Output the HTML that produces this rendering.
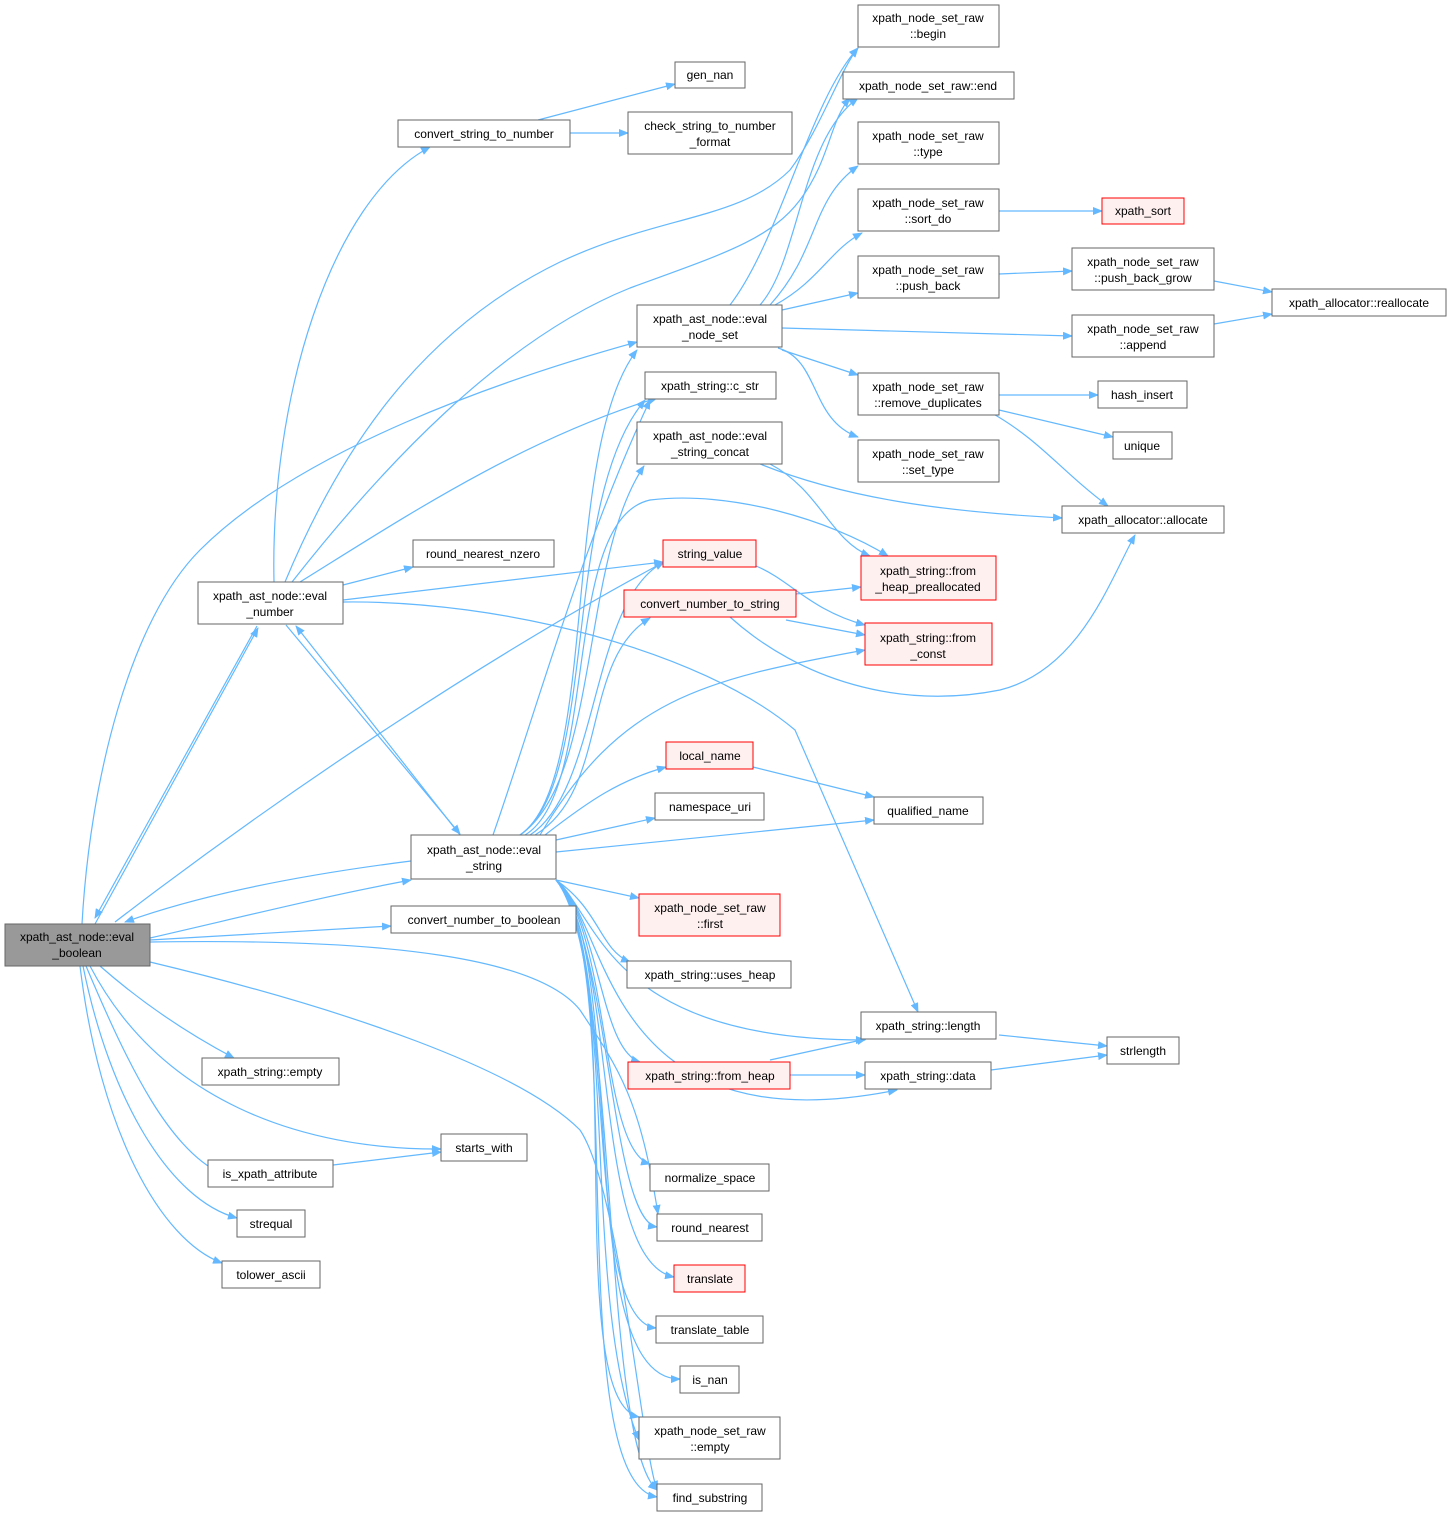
<!DOCTYPE html>
<html><head><meta charset="utf-8"><style>
html,body{margin:0;padding:0;background:#fff;}
svg text{font-family:"Liberation Sans",sans-serif;font-size:12px;fill:#000;}
</style></head><body>
<svg width="1451" height="1516" viewBox="0 0 1451 1516" xmlns="http://www.w3.org/2000/svg">
<defs><marker id="a" markerWidth="10" markerHeight="8" refX="9" refY="4" orient="auto" markerUnits="userSpaceOnUse"><path d="M0,0 L10,4 L0,8 z" fill="#63b8ff"/></marker></defs>
<g fill="none" stroke="#63b8ff" stroke-width="1.2" marker-end="url(#a)">
<path d="M95,924 L258,628"/>
<path d="M286,625 L460,834"/>
<path d="M150,938 C250,915 330,895 411,880"/>
<path d="M411,861 C300,875 200,895 125,922"/>
<path d="M150,940 L391,926"/>
<path d="M82,924 C90,780 130,620 200,550 C300,450 500,380 637,342"/>
<path d="M115,922 C300,780 500,650 664,562"/>
<path d="M150,942 C400,938 540,960 580,1010 C620,1070 640,1100 658,1214"/>
<path d="M150,962 C350,1010 520,1070 580,1130 C620,1190 640,1440 657,1490"/>
<path d="M100,966 C150,1010 200,1040 234,1058"/>
<path d="M90,966 C160,1100 300,1150 441,1149"/>
<path d="M86,966 C130,1070 170,1150 222,1174"/>
<path d="M83,966 C110,1100 170,1200 237,1218"/>
<path d="M80,966 C100,1130 160,1240 222,1263"/>
<path d="M333,1165 L441,1152"/>
<path d="M274,582 C270,400 330,200 430,147"/>
<path d="M257,626 L95,918"/>
<path d="M285,582 C340,450 420,330 560,262 C660,215 740,220 790,170 C820,130 840,70 858,48"/>
<path d="M292,582 C380,470 500,340 630,288 C720,255 770,240 800,200 C830,160 830,120 850,98"/>
<path d="M300,582 C400,520 520,440 657,398"/>
<path d="M343,585 L413,567"/>
<path d="M343,600 L663,562"/>
<path d="M343,602 C500,600 700,650 795,730 L918,1012"/>
<path d="M460,835 L296,626"/>
<path d="M538,120 L675,84"/>
<path d="M570,133 L628,133"/>
<path d="M730,305 C780,240 810,100 858,48"/>
<path d="M760,305 C800,260 800,140 858,98"/>
<path d="M770,305 C820,250 810,200 858,166"/>
<path d="M775,305 C820,280 830,250 862,233"/>
<path d="M782,310 L858,293"/>
<path d="M782,328 L1072,336"/>
<path d="M782,350 L858,375"/>
<path d="M778,348 C820,360 810,420 858,437"/>
<path d="M999,211 L1102,211"/>
<path d="M999,274 L1072,271"/>
<path d="M1214,281 L1272,292"/>
<path d="M1214,324 L1272,314"/>
<path d="M999,395 L1098,395"/>
<path d="M999,410 L1113,437"/>
<path d="M990,412 C1040,440 1060,470 1108,506"/>
<path d="M760,464 C850,500 950,512 1062,518"/>
<path d="M770,464 C820,490 830,540 870,556"/>
<path d="M756,566 C790,580 810,610 865,625"/>
<path d="M796,594 L861,587"/>
<path d="M786,620 L865,635"/>
<path d="M730,617 C800,680 900,710 1000,690 C1080,670 1110,580 1135,535"/>
<path d="M753,767 L874,797"/>
<path d="M999,1035 L1107,1046"/>
<path d="M991,1070 L1107,1055"/>
<path d="M770,1060 L866,1039"/>
<path d="M790,1075 L865,1075"/>
<path d="M493,835 C540,700 580,550 650,400"/>
<path d="M520,835 C600,780 560,450 637,350"/>
<path d="M520,835 C600,780 560,500 645,400"/>
<path d="M520,835 C600,780 580,560 644,466"/>
<path d="M525,835 C600,790 560,520 650,500 C730,490 830,520 888,556"/>
<path d="M530,835 C600,790 590,600 664,562"/>
<path d="M535,835 C610,790 580,660 650,618"/>
<path d="M540,835 C620,700 700,680 865,650"/>
<path d="M545,835 C590,800 620,780 666,767"/>
<path d="M556,840 L655,818"/>
<path d="M556,852 L874,820"/>
<path d="M556,880 L639,898"/>
<path d="M556,880 C600,910 600,950 630,962"/>
<path d="M556,880 C600,920 610,1040 865,1040"/>
<path d="M556,880 C600,920 600,1050 640,1062"/>
<path d="M556,880 C610,920 600,1150 897,1090"/>
<path d="M556,880 C610,930 600,1150 650,1164"/>
<path d="M556,880 C610,940 610,1220 657,1227"/>
<path d="M556,880 C620,950 590,1260 674,1277"/>
<path d="M556,880 C620,950 580,1320 656,1328"/>
<path d="M556,880 C630,950 570,1380 680,1379"/>
<path d="M556,880 C630,960 560,1400 639,1417"/>
<path d="M556,880 C630,960 560,1480 657,1497"/>
<path d="M556,880 C620,960 580,1300 639,1440"/>
<path d="M556,880 C620,960 600,1440 657,1490"/>
</g>
<g stroke-width="1">
<rect x="5" y="924" width="145" height="42" fill="#999" stroke="#666"/>
<g fill="#fff" stroke="#666">
<rect x="398" y="120" width="172" height="27"/><rect x="675" y="62" width="70" height="26"/>
<rect x="628" y="112" width="164" height="42"/><rect x="858" y="5" width="141" height="42"/>
<rect x="843" y="72" width="171" height="27"/><rect x="858" y="122" width="141" height="42"/>
<rect x="858" y="189" width="141" height="42"/><rect x="858" y="256" width="141" height="42"/>
<rect x="1072" y="248" width="142" height="42"/><rect x="1272" y="289" width="174" height="27"/>
<rect x="637" y="305" width="145" height="42"/><rect x="1072" y="315" width="142" height="42"/>
<rect x="645" y="372" width="131" height="27"/><rect x="858" y="373" width="141" height="42"/>
<rect x="1098" y="381" width="89" height="27"/><rect x="1113" y="432" width="59" height="27"/>
<rect x="637" y="422" width="145" height="42"/><rect x="858" y="440" width="141" height="42"/>
<rect x="1062" y="506" width="162" height="27"/><rect x="413" y="540" width="141" height="27"/>
<rect x="198" y="582" width="145" height="42"/><rect x="655" y="793" width="109" height="27"/>
<rect x="874" y="797" width="109" height="27"/><rect x="411" y="835" width="145" height="44"/>
<rect x="391" y="906" width="185" height="27"/><rect x="627" y="961" width="164" height="27"/>
<rect x="861" y="1012" width="135" height="27"/><rect x="1107" y="1037" width="72" height="27"/>
<rect x="865" y="1062" width="126" height="27"/><rect x="202" y="1058" width="137" height="27"/>
<rect x="441" y="1134" width="86" height="27"/><rect x="208" y="1160" width="125" height="27"/>
<rect x="650" y="1164" width="119" height="27"/><rect x="237" y="1210" width="68" height="27"/>
<rect x="657" y="1214" width="105" height="27"/><rect x="222" y="1261" width="98" height="27"/>
<rect x="656" y="1316" width="107" height="27"/><rect x="680" y="1366" width="59" height="27"/>
<rect x="639" y="1417" width="141" height="42"/><rect x="657" y="1484" width="105" height="27"/>
</g>
<g fill="#fff0f0" stroke="#f00">
<rect x="1102" y="198" width="82" height="26"/><rect x="663" y="540" width="93" height="27"/>
<rect x="861" y="556" width="135" height="44"/><rect x="624" y="590" width="172" height="27"/>
<rect x="865" y="623" width="127" height="42"/><rect x="666" y="742" width="87" height="27"/>
<rect x="639" y="894" width="141" height="42"/><rect x="628" y="1062" width="162" height="27"/>
<rect x="674" y="1265" width="71" height="27"/>
</g>
</g>
<g text-anchor="middle">
<text x="77" y="941">xpath_ast_node::eval</text><text x="77" y="957">_boolean</text>
<text x="484" y="138">convert_string_to_number</text>
<text x="710" y="79">gen_nan</text>
<text x="710" y="130">check_string_to_number</text><text x="710" y="146">_format</text>
<text x="928" y="22">xpath_node_set_raw</text><text x="928" y="38">::begin</text>
<text x="928" y="90">xpath_node_set_raw::end</text>
<text x="928" y="140">xpath_node_set_raw</text><text x="928" y="156">::type</text>
<text x="928" y="207">xpath_node_set_raw</text><text x="928" y="223">::sort_do</text>
<text x="1143" y="215">xpath_sort</text>
<text x="928" y="274">xpath_node_set_raw</text><text x="928" y="290">::push_back</text>
<text x="1143" y="266">xpath_node_set_raw</text><text x="1143" y="282">::push_back_grow</text>
<text x="1359" y="307">xpath_allocator::reallocate</text>
<text x="710" y="323">xpath_ast_node::eval</text><text x="710" y="339">_node_set</text>
<text x="1143" y="333">xpath_node_set_raw</text><text x="1143" y="349">::append</text>
<text x="710" y="390">xpath_string::c_str</text>
<text x="928" y="391">xpath_node_set_raw</text><text x="928" y="407">::remove_duplicates</text>
<text x="1142" y="399">hash_insert</text>
<text x="1142" y="450">unique</text>
<text x="710" y="440">xpath_ast_node::eval</text><text x="710" y="456">_string_concat</text>
<text x="928" y="458">xpath_node_set_raw</text><text x="928" y="474">::set_type</text>
<text x="1143" y="524">xpath_allocator::allocate</text>
<text x="483" y="558">round_nearest_nzero</text>
<text x="710" y="558">string_value</text>
<text x="270" y="600">xpath_ast_node::eval</text><text x="270" y="616">_number</text>
<text x="928" y="575">xpath_string::from</text><text x="928" y="591">_heap_preallocated</text>
<text x="710" y="608">convert_number_to_string</text>
<text x="928" y="642">xpath_string::from</text><text x="928" y="658">_const</text>
<text x="710" y="760">local_name</text>
<text x="710" y="811">namespace_uri</text>
<text x="928" y="815">qualified_name</text>
<text x="484" y="854">xpath_ast_node::eval</text><text x="484" y="870">_string</text>
<text x="484" y="924">convert_number_to_boolean</text>
<text x="710" y="912">xpath_node_set_raw</text><text x="710" y="928">::first</text>
<text x="710" y="979">xpath_string::uses_heap</text>
<text x="928" y="1030">xpath_string::length</text>
<text x="1143" y="1055">strlength</text>
<text x="710" y="1080">xpath_string::from_heap</text>
<text x="928" y="1080">xpath_string::data</text>
<text x="270" y="1076">xpath_string::empty</text>
<text x="484" y="1152">starts_with</text>
<text x="270" y="1178">is_xpath_attribute</text>
<text x="710" y="1182">normalize_space</text>
<text x="271" y="1228">strequal</text>
<text x="710" y="1232">round_nearest</text>
<text x="271" y="1279">tolower_ascii</text>
<text x="710" y="1283">translate</text>
<text x="710" y="1334">translate_table</text>
<text x="710" y="1384">is_nan</text>
<text x="710" y="1435">xpath_node_set_raw</text><text x="710" y="1451">::empty</text>
<text x="710" y="1502">find_substring</text>
</g>
</svg>
</body></html>
